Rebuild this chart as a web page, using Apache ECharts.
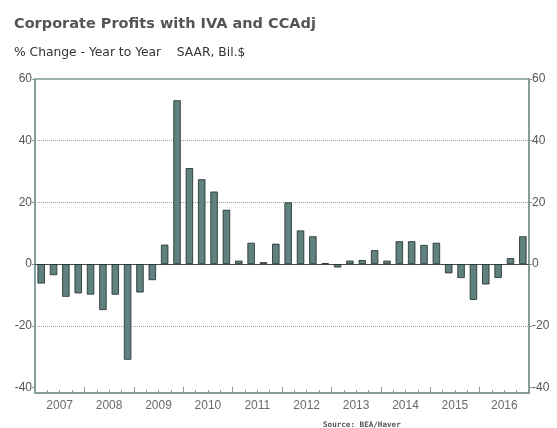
<!DOCTYPE html>
<html lang="en">
<head>
    <meta charset="UTF-8"/>
    <title>Corporate Profits with IVA and CCAdj</title>
    <script src="https://cdn.jsdelivr.net/npm/echarts@6/dist/echarts.min.js"></script>
    <style>
        html, body {margin: 0; padding: 0; background: #fff;}
        #chart {width: 557px; height: 428px;}
    </style>
</head>
<body>
<div id="chart"></div>
<script type="text/javascript">
    // quarterly, 2007 Q1 .. 2016 Q4
    var years = ["2007", "2008", "2009", "2010", "2011", "2012", "2013", "2014", "2015", "2016"];
    var quarters = [];
    for (var y = 0; y < years.length; y++) {
        for (var q = 1; q <= 4; q++) {
            quarters.push(years[y] + " Q" + q);
        }
    }
    var profitChange = [
        -6.3, -3.6, -10.6, -9.5,
        -9.9, -14.9, -9.9, -31.0,
        -9.2, -5.2, 6.3, 53.1,
        31.1, 27.5, 23.5, 17.6,
        1.1, 6.9, 0.6, 6.6,
        20.0, 10.9, 9.0, 0.3,
        -1.1, 1.1, 1.3, 4.5,
        1.1, 7.4, 7.4, 6.2,
        6.9, -3.0, -4.5, -11.6,
        -6.6, -4.5, 1.9, 9.0
    ];
    var yTicks = [-40, -20, 0, 20, 40, 60];
    var gridValues = [-20, 20, 40];

    var axisColor = "#7f9696";
    var labelFont = "Liberation Sans";

    var gridLines = [];
    for (var i = 0; i < gridValues.length; i++) {
        gridLines.push({yAxis: gridValues[i]});
    }
    gridLines.push({yAxis: 0, lineStyle: {type: "solid", color: "#4a4a4a", width: 1}});

    function yAxisOf(pos) {
        return {
            type: "value",
            position: pos,
            min: -41.8,
            max: 60,
            axisLine: {show: true, lineStyle: {color: axisColor, width: 1.5}},
            axisTick: {show: true, customValues: yTicks, length: 3, lineStyle: {color: axisColor}},
            axisLabel: {
                customValues: yTicks,
                margin: 3,
                color: "#555",
                fontFamily: labelFont,
                fontSize: 12
            },
            splitLine: {show: false}
        };
    }

    var chart = echarts.init(document.getElementById("chart"));
    chart.setOption({
        animation: false,
        title: [
            {
                text: "Corporate Profits with IVA and CCAdj",
                left: 9,
                top: 12,
                textStyle: {fontFamily: "DejaVu Sans", fontSize: 14.5, fontWeight: "bold", color: "#555"}
            },
            {
                text: "% Change - Year to Year    SAAR, Bil.$",
                left: 9,
                top: 42,
                textStyle: {fontFamily: "DejaVu Sans", fontSize: 12.3, fontWeight: "normal", color: "#333"}
            },
            {
                text: "Source: BEA/Haver",
                left: 318,
                top: 416,
                textStyle: {fontFamily: "DejaVu Sans Mono", fontSize: 7.6, fontWeight: "bold", color: "#555"}
            }
        ],
        grid: {
            left: 35,
            right: 28,
            top: 79,
            bottom: 35,
            show: true,
            borderColor: axisColor,
            borderWidth: 1.5,
            backgroundColor: "#fff"
        },
        xAxis: [
            {
                type: "category",
                position: "bottom",
                data: quarters,
                boundaryGap: true,
                axisLine: {show: true, onZero: false, lineStyle: {color: axisColor, width: 1.5}},
                axisTick: {show: true, inside: true, interval: 0, length: 3, lineStyle: {color: "#8a9a9a"}},
                axisLabel: {show: false}
            },
            {
                type: "category",
                position: "bottom",
                data: years,
                boundaryGap: true,
                axisLine: {show: false, onZero: false},
                axisTick: {show: true, inside: true, interval: 0, length: 6, lineStyle: {color: "#8a9a9a"}},
                axisLabel: {
                    interval: 0,
                    margin: 7,
                    color: "#6a6a6a",
                    fontFamily: labelFont,
                    fontSize: 12
                }
            }
        ],
        yAxis: [yAxisOf("left"), yAxisOf("right")],
        series: [
            {
                type: "bar",
                xAxisIndex: 0,
                yAxisIndex: 0,
                data: profitChange,
                barWidth: "60%",
                itemStyle: {color: "#5f827f", borderColor: "#1e2a2a", borderWidth: 0.8},
                markLine: {
                    silent: true,
                    symbol: "none",
                    z: 1,
                    label: {show: false},
                    lineStyle: {type: "dotted", color: "#a0a0a0", width: 1},
                    data: gridLines
                }
            }
        ]
    });
</script>
</body>
</html>
